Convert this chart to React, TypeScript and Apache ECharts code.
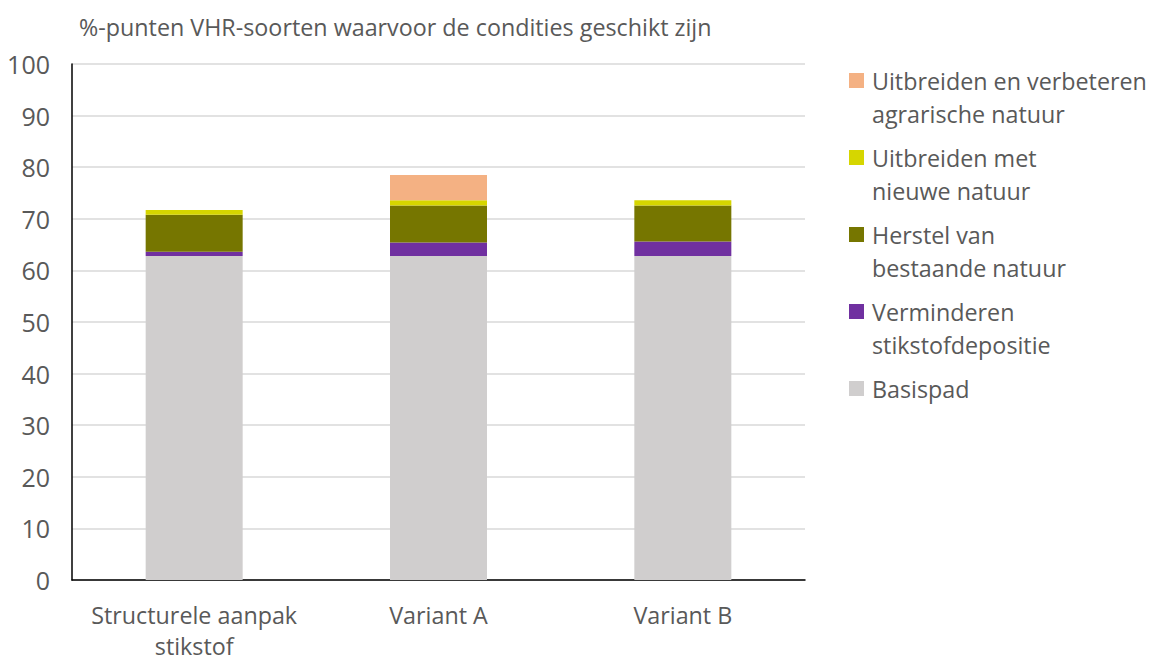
import React, { useEffect, useRef } from "react";
import * as echarts from "echarts";

const categories = ["Structurele aanpak\nstikstof", "Variant A", "Variant B"];
const basispad = [62.8, 62.8, 62.8];
const verminderen = [0.8, 2.6, 2.8];
const herstel = [7.2, 7.2, 7.0];
const uitbreidenNieuw = [0.9, 1.0, 1.0];
const uitbreidenAgrarisch: (number | string)[] = ["-", 4.9, "-"];
const yTicks = { min: 0, max: 100, interval: 10 };

const seriesNames = [
  "Basispad",
  "Verminderen stikstofdepositie",
  "Herstel van bestaande natuur",
  "Uitbreiden met nieuwe natuur",
  "Uitbreiden en verbeteren agrarische natuur",
];
const legendLabels: Record<string, string> = {
  "Basispad": " \nBasispad\n ",
  "Verminderen stikstofdepositie": " \nVerminderen\nstikstofdepositie",
  "Herstel van bestaande natuur": " \nHerstel van\nbestaande natuur",
  "Uitbreiden met nieuwe natuur": " \nUitbreiden met\nnieuwe natuur",
  "Uitbreiden en verbeteren agrarische natuur": " \nUitbreiden en verbeteren\nagrarische natuur",
};
const colors = ["#D0CECE", "#7030A0", "#767600", "#D6D600", "#F4B183"];

export default function App() {
  const ref = useRef<HTMLDivElement>(null);
  useEffect(() => {
    if (!ref.current) return;
    const chart = echarts.init(ref.current, undefined, { renderer: "svg" });
    const font = "'Open Sans', sans-serif";
    const dataSets = [basispad, verminderen, herstel, uitbreidenNieuw, uitbreidenAgrarisch];
    chart.setOption({
      animation: false,
      textStyle: { fontFamily: font },
      title: {
        text: "%-punten VHR-soorten waarvoor de condities geschikt zijn",
        left: 74,
        top: 10,
        textStyle: { fontFamily: font, fontSize: 23.3, fontWeight: "normal", color: "#595959" },
      },
      grid: { left: 72, right: 345, top: 64, bottom: 76, containLabel: false },
      legend: {
        orient: "vertical",
        left: 849,
        top: 31,
        padding: 0,
        itemWidth: 15,
        itemHeight: 15,
        itemGap: -22,
        icon: "rect",
        data: [...seriesNames].reverse(),
        formatter: (n: string) => legendLabels[n] || n,
        textStyle: {
          fontFamily: font,
          fontSize: 23.3,
          color: "#595959",
          lineHeight: 33,
          padding: [0, 0, 0, 3],
        },
      },
      xAxis: {
        type: "category",
        data: categories,
        axisLine: { lineStyle: { color: "#000000", width: 1.5 } },
        axisTick: { show: false },
        axisLabel: { interval: 0, color: "#595959", fontSize: 23.3, lineHeight: 31, margin: 19, fontFamily: font },
      },
      yAxis: {
        type: "value",
        min: yTicks.min,
        max: yTicks.max,
        interval: yTicks.interval,
        axisLine: { show: true, lineStyle: { color: "#000000", width: 1.5 } },
        axisTick: { show: false },
        axisLabel: { color: "#595959", fontSize: 25, margin: 22, fontFamily: font },
        splitLine: { lineStyle: { color: "#D9D9D9", width: 1.5 } },
      },
      series: seriesNames.map((name, i) => ({
        name,
        type: "bar",
        stack: "total",
        barWidth: 97,
        data: dataSets[i],
        itemStyle: { color: colors[i] },
      })),
    });
    return () => chart.dispose();
  }, []);
  return (
    <div
      ref={ref}
      style={{ position: "absolute", left: 0, top: 0, width: 1150, height: 661 }}
    />
  );
}
